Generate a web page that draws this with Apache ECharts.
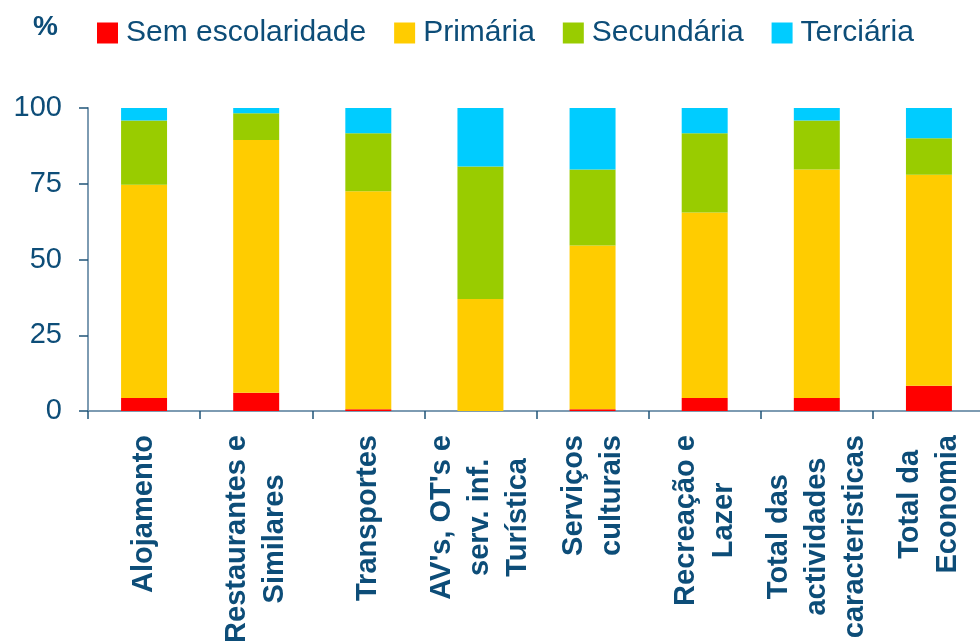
<!DOCTYPE html>
<html>
<head>
<meta charset="utf-8">
<script src="https://cdn.jsdelivr.net/npm/echarts@6/dist/echarts.min.js"></script>
<style>
  html, body { margin: 0; padding: 0; background: #ffffff; }
  #chart { width: 980px; height: 641px; }
</style>
</head>
<body>
<div id="chart"></div>
<script>
// Employment by education level, per tourism activity (%)
const categories = [
  'Alojamento',
  'Restaurantes e\nSimilares',
  'Transportes',
  "AV's, OT's e\nserv. inf.\nTurística",
  'Serviços\nculturais',
  'Recreação e\nLazer',
  'Total das\nactividades\ncaracteristicas',
  'Total da\nEconomia'
];
const semEscolaridade = [4.3, 6.0, 0.6, 0.0, 0.6, 4.3, 4.3, 8.3];
const primaria        = [70.4, 83.4, 71.9, 37.0, 54.0, 61.2, 75.4, 69.7];
const secundaria      = [21.2, 8.9, 19.2, 43.7, 25.1, 26.2, 16.2, 12.0];
const terciaria       = [4.1, 1.7, 8.3, 19.3, 20.3, 8.3, 4.1, 10.0];
const yTicks = [0, 25, 50, 75, 100];

const seriesNames = ['Sem escolaridade', 'Primária', 'Secundária', 'Terciária'];
const seriesColors = ['#ff0000', '#ffcc00', '#99cc00', '#00ccff'];
const seriesData = [semEscolaridade, primaria, secundaria, terciaria];

const textColor = '#0d4d78';
const axisColor = '#7d9bb2';
const font = 'Liberation Sans, Arial, sans-serif';

const chart = echarts.init(document.getElementById('chart'), null, { renderer: 'canvas' });

chart.setOption({
  animation: false,
  backgroundColor: '#ffffff',
  textStyle: { fontFamily: font },
  title: {
    text: '%',
    left: 28,
    top: 8,
    textStyle: { color: textColor, fontSize: 28, fontWeight: 'bold', fontFamily: font }
  },
  legend: {
    left: 92,
    top: 13,
    itemWidth: 21,
    itemHeight: 21,
    itemGap: 28,
    icon: 'rect',
    data: seriesNames,
    textStyle: { color: textColor, fontSize: 30, fontFamily: font, padding: [0, 0, 8, 3] }
  },
  grid: {
    left: 88,
    top: 108,
    width: 897,
    bottom: 230,
    containLabel: false,
    outerBoundsMode: 'none'
  },
  xAxis: {
    type: 'category',
    data: categories,
    axisLine: { show: true, lineStyle: { color: axisColor, width: 2 } },
    axisTick: { show: true, alignWithLabel: false, length: 8, lineStyle: { color: '#1f5478', width: 1.5 } },
    axisLabel: {
      interval: 0,
      rotate: 90,
      margin: 24,
      color: textColor,
      fontSize: 29,
      fontWeight: 'bold',
      fontFamily: font,
      lineHeight: 38,
      formatter: function (v) {
        return v.split('\n').map(function (l) { return '{c|' + l + '}'; }).join('\n');
      },
      rich: {
        c: { align: 'center', color: textColor, fontSize: 29, fontWeight: 'bold', fontFamily: font, lineHeight: 38 }
      }
    }
  },
  yAxis: {
    type: 'value',
    min: 0,
    max: 100,
    interval: 25,
    axisLine: { show: true, lineStyle: { color: axisColor, width: 2 } },
    axisTick: { show: true, length: 9, lineStyle: { color: '#1f5478', width: 1.5 } },
    splitLine: { show: false },
    axisLabel: {
      margin: 26,
      color: textColor,
      fontSize: 29,
      fontFamily: font,
      formatter: function (v) { return yTicks.indexOf(v) >= 0 ? String(v) : ''; }
    }
  },
  series: seriesNames.map(function (name, i) {
    return {
      name: name,
      type: 'bar',
      stack: 'total',
      barWidth: '41%',
      itemStyle: { color: seriesColors[i] },
      data: seriesData[i]
    };
  })
});
</script>
</body>
</html>
